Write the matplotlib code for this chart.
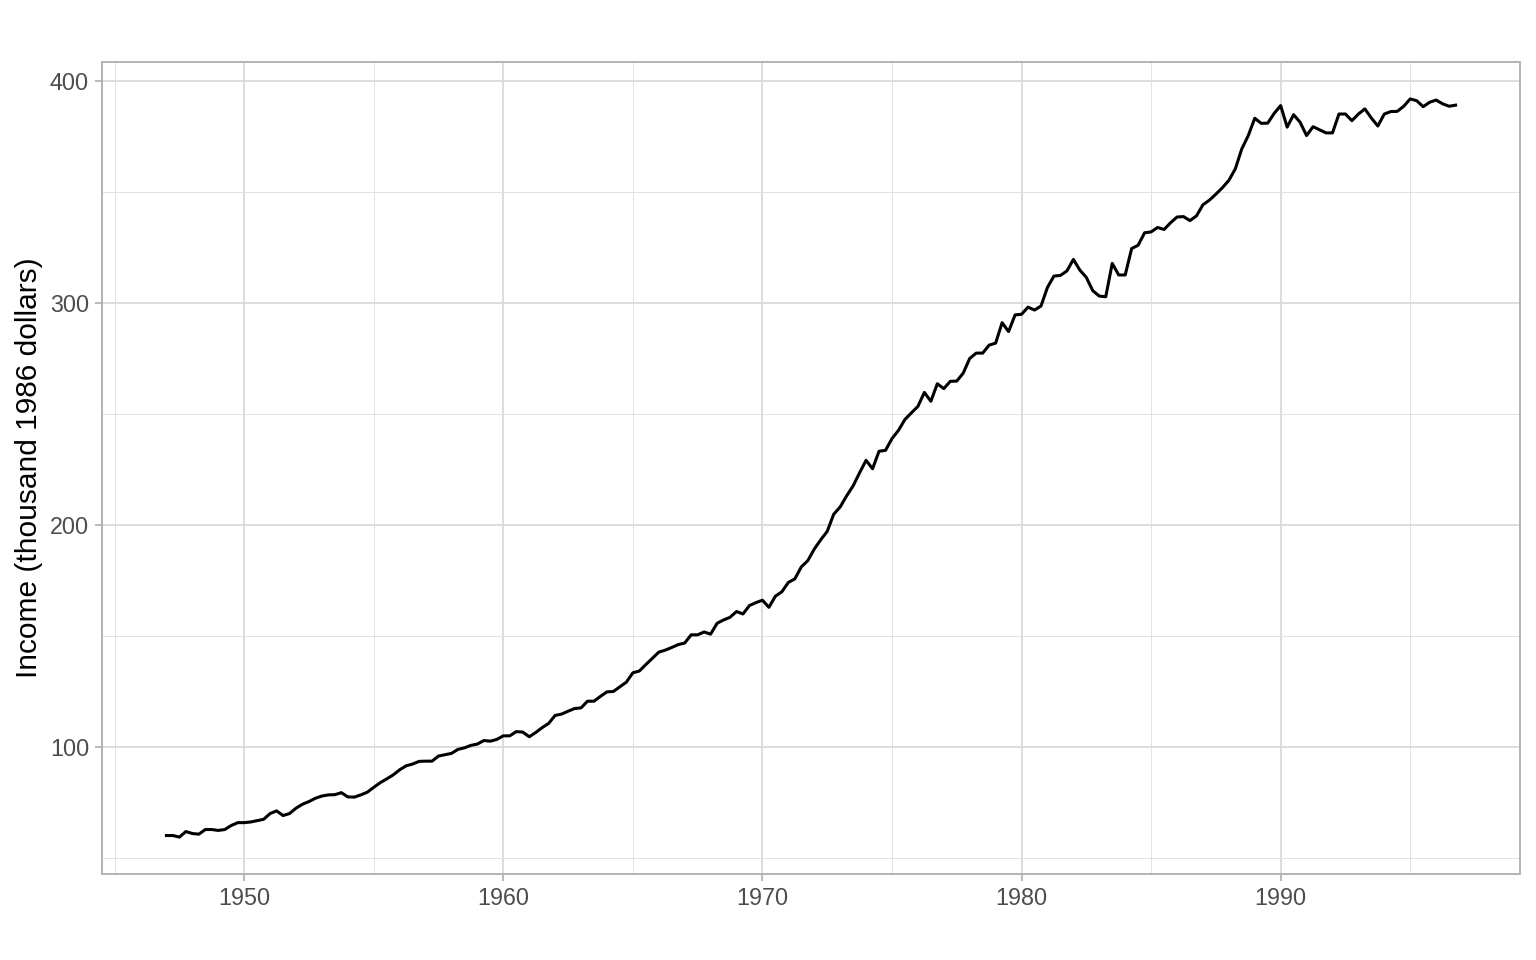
import matplotlib.pyplot as plt
import numpy as np
from matplotlib.ticker import MultipleLocator

plt.rcParams['font.family'] = ['Liberation Sans', 'DejaVu Sans']

# quarterly income, thousand 1986 dollars, starting 1947 Q1
start_year = 1947
income = [
    60.0, 60.0, 59.3, 61.8, 60.9, 60.6, 62.7, 62.7, 62.3, 62.7,
    64.5, 65.8, 65.8, 66.1, 66.7, 67.3, 69.9, 71.1, 69.0, 69.9,
    72.3, 74.1, 75.3, 76.8, 77.8, 78.3, 78.4, 79.3, 77.4, 77.3,
    78.3, 79.5, 81.7, 83.8, 85.5, 87.3, 89.6, 91.4, 92.2, 93.4,
    93.5, 93.5, 95.8, 96.4, 97.0, 98.8, 99.5, 100.6, 101.2, 102.8,
    102.5, 103.3, 104.9, 104.9, 106.8, 106.6, 104.5, 106.4, 108.6, 110.5,
    114.1, 114.7, 116.0, 117.2, 117.5, 120.5, 120.5, 122.7, 124.7, 124.9,
    127.0, 129.1, 133.3, 134.1, 137.0, 139.8, 142.6, 143.5, 144.7, 146.0,
    146.7, 150.4, 150.4, 151.7, 150.7, 155.6, 157.1, 158.3, 160.9, 159.8,
    163.6, 164.9, 166.0, 162.8, 167.8, 169.8, 174.0, 175.6, 181.0, 183.8,
    189.0, 193.2, 197.0, 204.7, 208.0, 213.0, 217.5, 223.4, 229.0, 225.2,
    233.1, 233.5, 238.8, 242.5, 247.4, 250.4, 253.3, 259.6, 255.6, 263.5,
    261.3, 264.6, 264.7, 268.3, 274.9, 277.3, 277.3, 280.9, 281.8, 291.0,
    287.0, 294.5, 294.8, 298.0, 296.7, 298.5, 306.9, 312.0, 312.3, 314.3,
    319.5, 314.7, 311.4, 305.4, 303.0, 302.7, 317.7, 312.5, 312.5, 324.4,
    325.9, 331.5, 331.9, 333.9, 333.0, 336.0, 338.6, 338.8, 337.0, 339.1,
    344.1, 346.2, 348.9, 351.8, 355.1, 360.3, 369.3, 375.3, 383.1, 380.8,
    380.9, 385.3, 388.8, 379.1, 384.7, 381.3, 375.3, 379.3, 377.9, 376.5,
    376.5, 385.0, 385.0, 382.0, 385.0, 387.3, 383.2, 379.6, 385.0, 386.1,
    386.2, 388.5, 391.8, 391.0, 388.3, 390.3, 391.3, 389.6, 388.5, 389.0,
]
years = start_year + np.arange(len(income)) / 4

x_ticks = [1950, 1960, 1970, 1980, 1990]
y_ticks = [100, 200, 300, 400]

fig = plt.figure(figsize=(15.36, 9.6), dpi=100)
ax = fig.add_axes([0.0664, 0.0896, 0.9232, 0.8458])

ax.plot(years, income, color='black', linewidth=2.2, solid_joinstyle='round')

# ggplot-style 5% expansion
span = years[-1] - years[0]
ax.set_xlim(years[0] - 0.05 * span, years[-1] + 0.05 * span)
yspan = max(income) - min(income)
ax.set_ylim(min(income) - 0.05 * yspan, max(income) + 0.05 * yspan)

ax.set_xticks(x_ticks)
ax.set_yticks(y_ticks)
ax.xaxis.set_minor_locator(MultipleLocator(5))
ax.yaxis.set_minor_locator(MultipleLocator(50))
ax.set_axisbelow(True)
ax.grid(which='major', color='#DADADA', linewidth=1.3)
ax.grid(which='minor', color='#E2E2E2', linewidth=0.7)

for s in ax.spines.values():
    s.set_color('#B3B3B3')
    s.set_linewidth(1.4)

ax.tick_params(which='major', color='#B3B3B3', width=1.3, length=5.3,
               labelsize=16.8, labelcolor='#4D4D4D', pad=4)
ax.tick_params(which='minor', length=0)

ax.set_ylabel('Income (thousand 1986 dollars)', fontsize=21.5, color='black', labelpad=5)

fig.savefig('out.png', dpi=100)
